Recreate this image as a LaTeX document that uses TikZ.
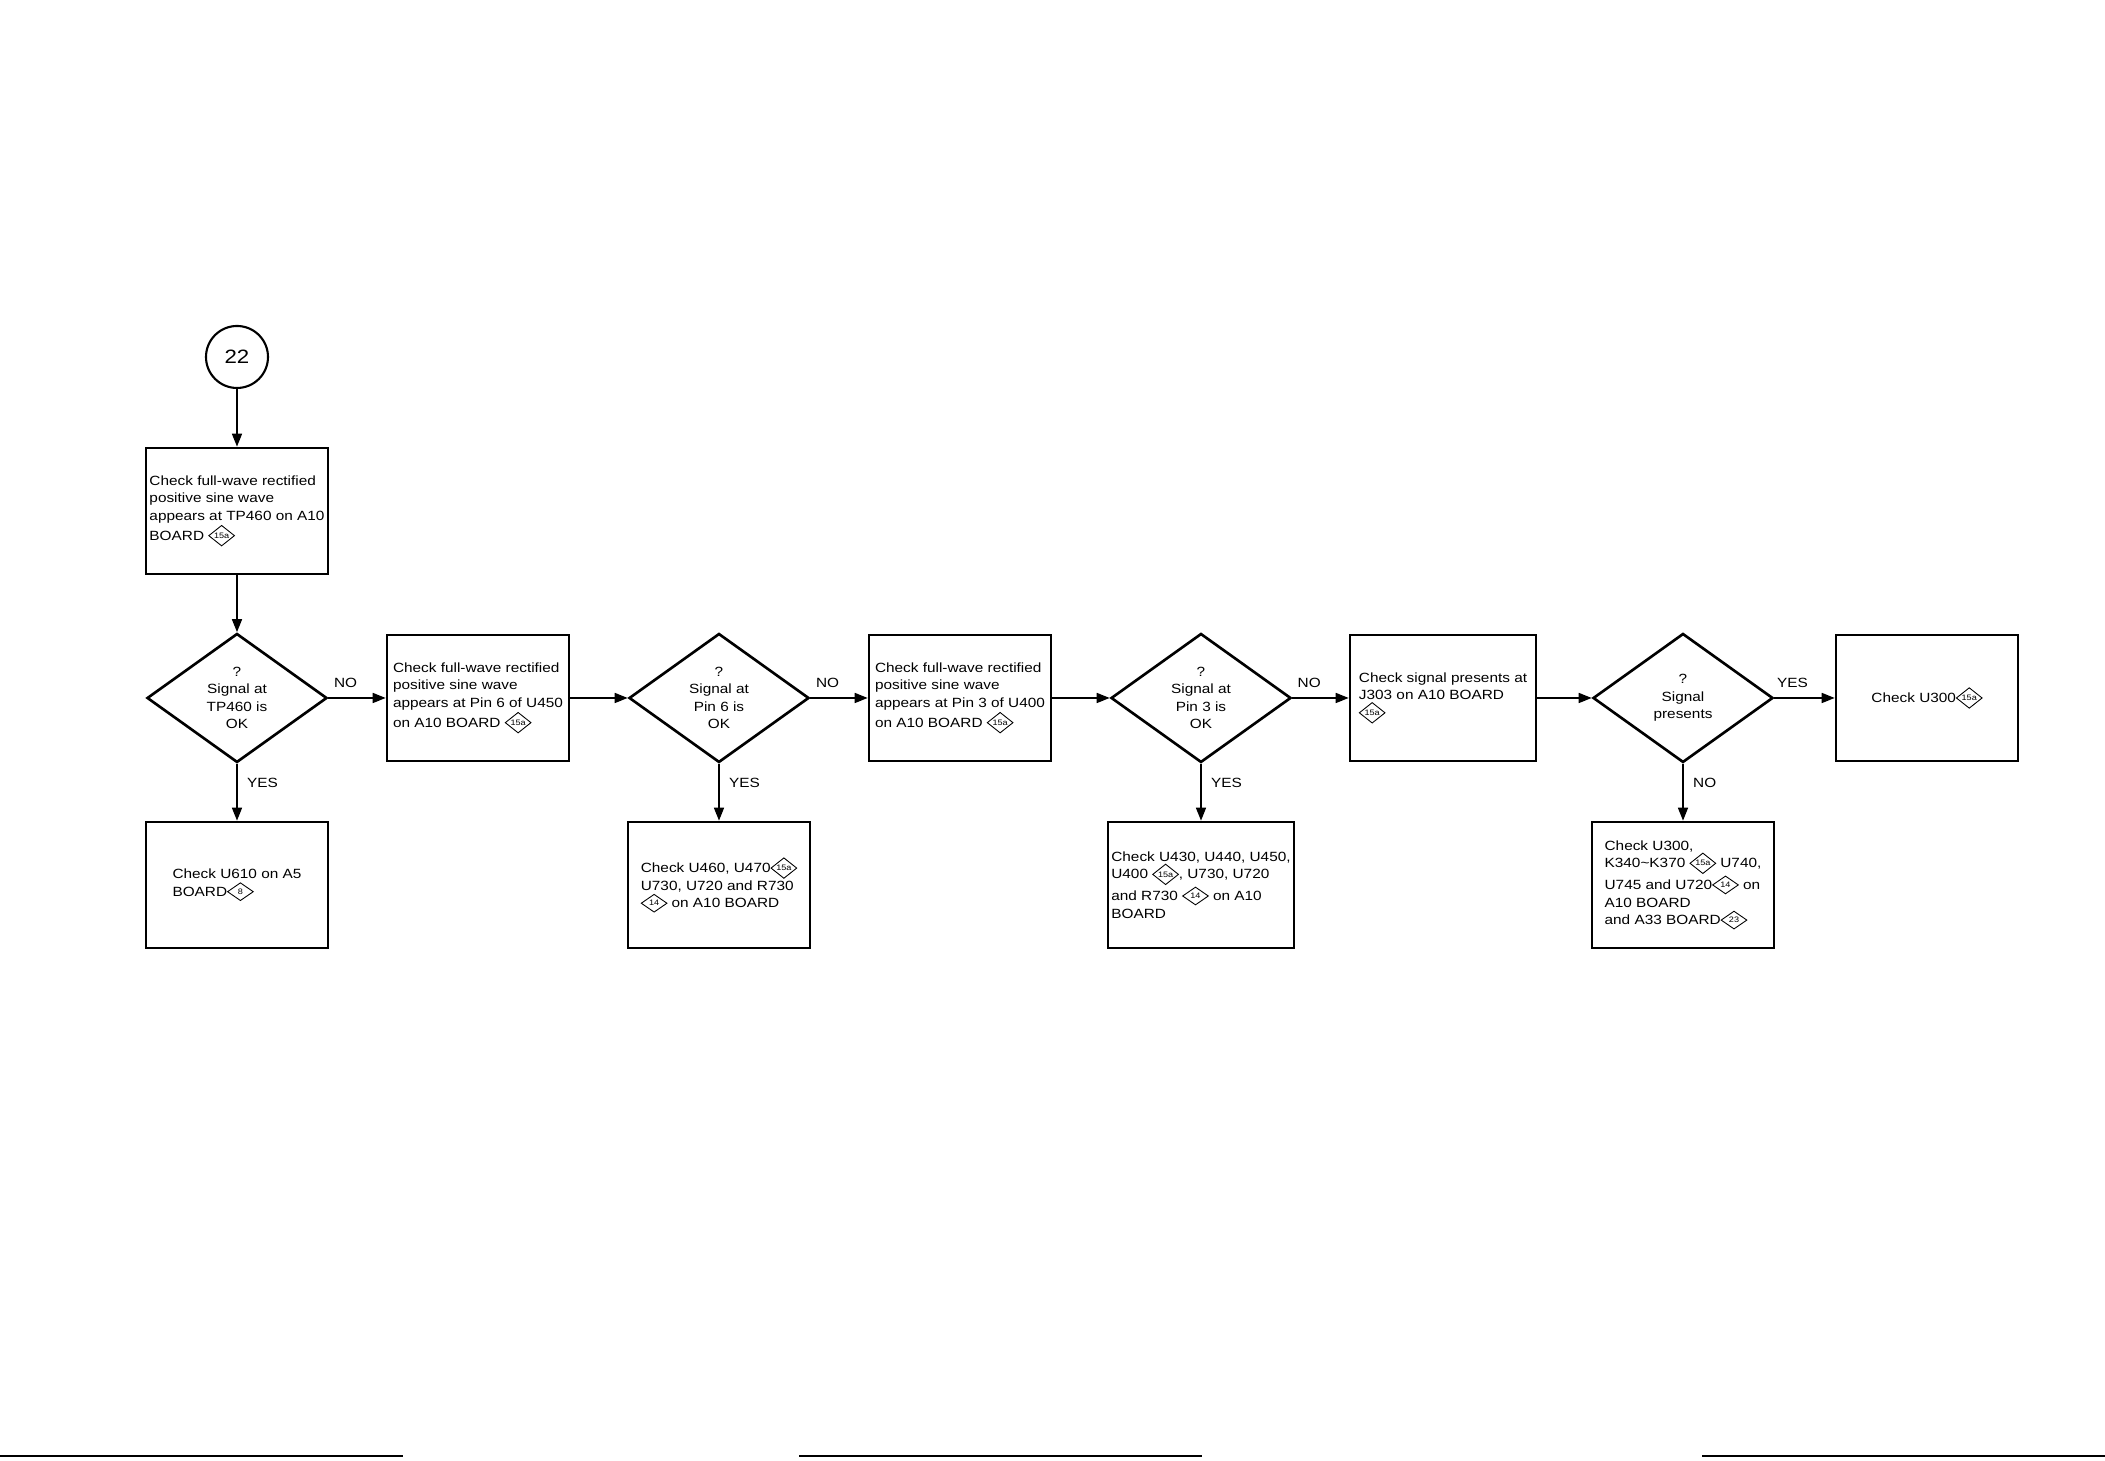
\documentclass[tikz,border=0pt]{standalone}
\usepackage{fontspec}
\setmainfont{Liberation Sans}[FakeStretch=1.15]
\usetikzlibrary{arrows.meta, shapes.geometric}

% small diamond used for the page references
\newcommand{\refdia}[1]{\tikz[baseline={([yshift=-2.6pt]m.center)}]
  \node[draw, diamond, line width=0.5pt, inner sep=0pt, minimum width=0.52cm,
        minimum height=0.36cm, font=\fontsize{4.5}{5}\selectfont] (m) {#1};}

\begin{document}
\begin{tikzpicture}[font=\fontsize{7.6}{10}\selectfont,
  box/.style={draw, line width=1.5pt, minimum width=3.64cm,
              minimum height=2.52cm, align=left, inner sep=2pt},
  query/.style={draw, diamond, line width=1.5pt, minimum width=3.6cm,
                minimum height=2.58cm, align=center, inner sep=0pt},
  flow/.style={line width=0.9pt, -{Triangle[length=2.6mm, width=2mm]}}]
  \useasboundingbox (0,0) rectangle (42.1,29.22);

  \node[draw, circle, line width=1.2pt, minimum size=1.24cm,
        font=\fontsize{11}{12}\selectfont] (start) at (4.74,22.08) {22};
  \node[box] (chk1) at (4.74,19.0)
    {Check full-wave rectified\\positive sine wave\\appears at TP460 on A10\\BOARD \refdia{15a}};

  % main row
  \node[query] (q1) at (4.74,15.26) {?\\Signal at\\TP460 is\\OK};
  \node[box] (chk2) at (9.56,15.26)
    {Check full-wave rectified\\positive sine wave\\appears at Pin 6 of U450\\on A10 BOARD \refdia{15a}};
  \node[query] (q2) at (14.38,15.26) {?\\Signal at\\Pin 6 is\\OK};
  \node[box] (chk3) at (19.2,15.26)
    {Check full-wave rectified\\positive sine wave\\appears at Pin 3 of U400\\on A10 BOARD \refdia{15a}};
  \node[query] (q3) at (24.02,15.26) {?\\Signal at\\Pin 3 is\\OK};
  \node[box, minimum width=3.72cm] (chk4) at (28.86,15.26)
    {Check signal presents at\\J303 on A10 BOARD\\\refdia{15a}};
  \node[query] (q4) at (33.66,15.26) {?\\Signal\\presents};
  \node[box] (chk5) at (38.54,15.26) {Check U300\refdia{15a}};

  % bottom row
  \node[box] (fix1) at (4.74,11.52) {Check U610 on A5\\BOARD\refdia{8}};
  \node[box] (fix2) at (14.38,11.52)
    {Check U460, U470\refdia{15a}\\U730, U720 and R730\\\refdia{14} on A10 BOARD};
  \node[box] (fix3) at (24.02,11.52)
    {Check U430, U440, U450,\\U400 \refdia{15a}, U730, U720\\and R730 \refdia{14} on A10\\BOARD};
  \node[box] (fix4) at (33.66,11.52)
    {Check U300,\\K340\textasciitilde K370 \refdia{15a} U740,\\U745 and U720\refdia{14} on\\A10 BOARD\\and A33 BOARD\refdia{23}};

  \draw[flow] (start) -- (chk1);
  \draw[flow] (chk1) -- (q1);
  \foreach \a/\b in {chk2/q2, chk3/q3, chk4/q4}
    \draw[flow] (\a) -- (\b);
  \foreach \q/\c/\t in {q1/chk2/NO, q2/chk3/NO, q3/chk4/NO, q4/chk5/YES}
    \draw[flow] (\q.east) -- node[pos=0.3, above=2pt] {\t} (\c.west);
  \foreach \q/\c/\t in {q1/fix1/YES, q2/fix2/YES, q3/fix3/YES, q4/fix4/NO}
    \draw[flow] (\q.south) -- node[pos=0.33, right=2pt] {\t} (\c.north);

  % rules at the foot of the page
  \foreach \x in {0, 15.98, 34.04}
    \draw[line width=1.5pt] (\x,0.1) -- ++(8.06,0);
\end{tikzpicture}
\end{document}
